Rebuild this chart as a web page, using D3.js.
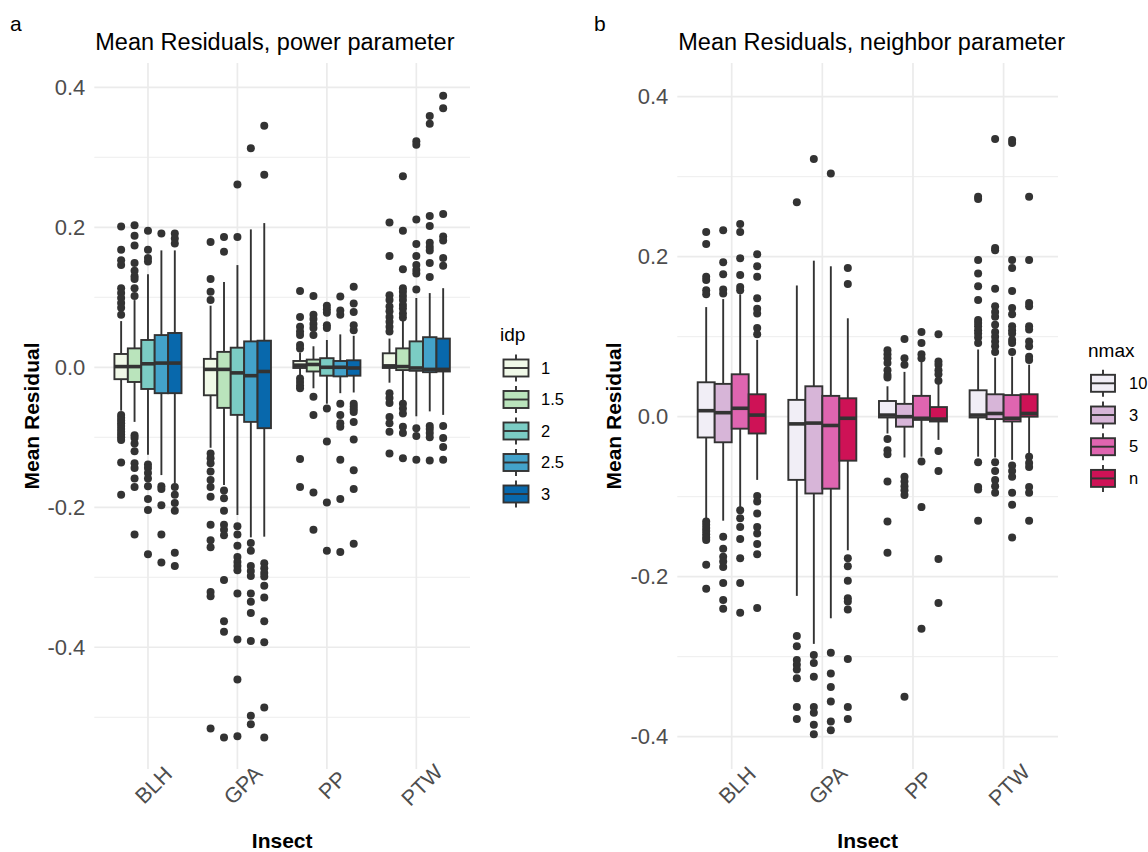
<!DOCTYPE html>
<html><head><meta charset="utf-8">
<script src="https://cdn.jsdelivr.net/npm/d3@7"></script>
<style>
body{margin:0;background:#fff;}
svg{display:block;}
text{font-family:"Liberation Sans",Arial,sans-serif;}
</style>
</head><body>
<svg id="chart" width="1148" height="852"></svg>
<script>
const insects = ["BLH", "GPA", "PP", "PTW"];
const idpLevels = ["1", "1.5", "2", "2.5", "3"];
const idpColors = ["#f0f9e8", "#bae4bc", "#7bccc4", "#43a2ca", "#0868ac"];
const nmaxLevels = ["10", "3", "5", "n"];
const nmaxColors = ["#f1eef6", "#d7b5d8", "#df65b0", "#ce1256"];
const yTicks = [-0.4, -0.2, 0, 0.2, 0.4];
const yMinorTicks = [-0.5, -0.3, -0.1, 0.1, 0.3];

// [insect, level, lowerWhisker, q1, median, q3, upperWhisker]
const idpStats = [
  ["BLH","1",  -0.062,-0.017, 0.001,0.019,0.066],
  ["BLH","1.5",-0.078,-0.021, 0.001,0.027,0.096],
  ["BLH","2",  -0.125,-0.031, 0.005,0.039,0.133],
  ["BLH","2.5",-0.154,-0.037, 0.006,0.046,0.167],
  ["BLH","3",  -0.166,-0.037, 0.006,0.049,0.167],
  ["GPA","1",  -0.115,-0.040,-0.003,0.012,0.088],
  ["GPA","1.5",-0.168,-0.058,-0.003,0.022,0.122],
  ["GPA","2",  -0.211,-0.068,-0.008,0.028,0.146],
  ["GPA","2.5",-0.243,-0.078,-0.012,0.037,0.197],
  ["GPA","3",  -0.242,-0.087,-0.006,0.038,0.206],
  ["PP","1",   -0.011,-0.001, 0.003,0.009,0.021],
  ["PP","1.5", -0.030,-0.006, 0.004,0.011,0.030],
  ["PP","2",   -0.052,-0.012, 0.000,0.013,0.039],
  ["PP","2.5", -0.037,-0.013, 0.000,0.009,0.047],
  ["PP","3",   -0.036,-0.012,-0.001,0.010,0.045],
  ["PTW","1",  -0.022,-0.001, 0.002,0.020,0.041],
  ["PTW","1.5",-0.047,-0.004, 0.001,0.027,0.068],
  ["PTW","2",  -0.070,-0.005,-0.001,0.037,0.099],
  ["PTW","2.5",-0.063,-0.007,-0.003,0.043,0.106],
  ["PTW","3",  -0.068,-0.006,-0.003,0.041,0.113]
];
const idpOutliers = [
  ["BLH","1",  [0.201,0.168,0.153,0.146,0.113,0.106,0.099,0.092,0.085,0.075,-0.068,-0.072,-0.076,-0.080,-0.084,-0.088,-0.092,-0.096,-0.100,-0.104,-0.136,-0.182]],
  ["BLH","1.5",[0.203,0.188,0.174,0.149,0.138,0.130,0.126,0.113,0.102,-0.097,-0.101,-0.109,-0.120,-0.137,-0.144,-0.159,-0.171,-0.239]],
  ["BLH","2",  [0.195,0.168,0.156,0.151,-0.139,-0.144,-0.151,-0.159,-0.170,-0.188,-0.204,-0.267]],
  ["BLH","2.5",[0.191,-0.170,-0.174,-0.197,-0.239,-0.279]],
  ["BLH","3",  [0.191,0.184,0.177,-0.171,-0.182,-0.194,-0.205,-0.265,-0.284]],
  ["GPA","1",  [0.179,0.126,0.108,0.096,-0.123,-0.130,-0.137,-0.149,-0.161,-0.171,-0.185,-0.225,-0.247,-0.257,-0.321,-0.327,-0.516]],
  ["GPA","1.5",[0.186,0.165,-0.176,-0.187,-0.205,-0.225,-0.232,-0.240,-0.304,-0.363,-0.378,-0.529]],
  ["GPA","2",  [0.261,0.186,-0.227,-0.239,-0.255,-0.271,-0.278,-0.284,-0.290,-0.323,-0.389,-0.446,-0.527]],
  ["GPA","2.5",[0.313,-0.251,-0.262,-0.284,-0.291,-0.298,-0.323,-0.335,-0.351,-0.391,-0.498,-0.510]],
  ["GPA","3",  [0.345,0.275,-0.280,-0.287,-0.294,-0.299,-0.312,-0.329,-0.363,-0.393,-0.486,-0.529]],
  ["PP","1",   [0.109,0.072,0.058,0.051,0.046,0.032,0.027,-0.016,-0.021,-0.026,-0.030,-0.131,-0.171]],
  ["PP","1.5", [0.102,0.075,0.069,0.062,0.056,0.046,-0.042,-0.068,-0.179,-0.232]],
  ["PP","2",   [0.088,0.083,0.078,0.060,0.056,-0.059,-0.106,-0.193,-0.262]],
  ["PP","2.5", [0.101,0.081,0.075,-0.052,-0.068,-0.080,-0.085,-0.132,-0.188,-0.264]],
  ["PP","3",   [0.115,0.091,0.079,0.060,0.053,-0.052,-0.056,-0.060,-0.064,-0.078,-0.103,-0.147,-0.174,-0.252]],
  ["PTW","1",  [0.207,0.159,0.103,0.096,0.087,0.080,0.072,0.065,0.058,0.051,-0.037,-0.044,-0.051,-0.071,-0.080,-0.092,-0.123]],
  ["PTW","1.5",[0.273,0.195,0.140,0.113,0.108,0.102,0.096,0.089,0.084,0.077,0.071,-0.052,-0.059,-0.066,-0.085,-0.094,-0.130]],
  ["PTW","2",  [0.323,0.318,0.211,0.176,0.159,0.146,0.139,0.134,0.111,-0.087,-0.098,-0.132]],
  ["PTW","2.5",[0.359,0.348,0.216,0.202,0.178,0.172,0.167,0.149,0.129,-0.084,-0.088,-0.094,-0.100,-0.133]],
  ["PTW","3",  [0.388,0.370,0.219,0.187,0.181,0.156,0.145,-0.084,-0.101,-0.114,-0.132]]
];

const nmaxStats = [
  ["BLH","10",-0.129,-0.026, 0.0075,0.043,0.137],
  ["BLH","3", -0.130,-0.032, 0.005,0.041,0.147],
  ["BLH","5", -0.115,-0.015, 0.0105,0.053,0.153],
  ["BLH","n", -0.079,-0.021, 0.002,0.028,0.096],
  ["GPA","10",-0.224,-0.079,-0.009,0.021,0.164],
  ["GPA","3", -0.284,-0.096,-0.008,0.038,0.195],
  ["GPA","5", -0.252,-0.090,-0.011,0.026,0.188],
  ["GPA","n", -0.167,-0.055,-0.002,0.023,0.123],
  ["PP","10", -0.021,-0.001, 0.002,0.0196,0.038],
  ["PP","3",  -0.051,-0.0125,0.000,0.016,0.056],
  ["PP","5",  -0.050,-0.004,-0.002,0.026,0.069],
  ["PP","n",  -0.029,-0.006,-0.003,0.012,0.041],
  ["PTW","10",-0.050,-0.001, 0.002,0.033,0.084],
  ["PTW","3", -0.051,-0.003, 0.004,0.028,0.074],
  ["PTW","5", -0.054,-0.006,-0.002,0.027,0.075],
  ["PTW","n", -0.046, 0.000, 0.004,0.028,0.065]
];
const nmaxOutliers = [
  ["BLH","10",[0.231,0.216,0.175,0.171,0.158,0.153,-0.131,-0.135,-0.139,-0.143,-0.147,-0.151,-0.154,-0.185,-0.215]],
  ["BLH","3", [0.233,0.193,0.178,0.159,0.154,-0.150,-0.165,-0.175,-0.181,-0.188,-0.208,-0.229,-0.240]],
  ["BLH","5", [0.241,0.231,0.198,0.177,0.162,0.158,-0.117,-0.127,-0.138,-0.153,-0.177,-0.208,-0.245]],
  ["BLH","n", [0.203,0.188,0.175,0.148,0.135,0.129,0.111,0.103,-0.099,-0.106,-0.121,-0.138,-0.146,-0.159,-0.172,-0.239]],
  ["GPA","10",[0.268,-0.274,-0.287,-0.304,-0.310,-0.316,-0.327,-0.363,-0.378]],
  ["GPA","3", [0.322,-0.298,-0.308,-0.325,-0.363,-0.370,-0.385,-0.397]],
  ["GPA","5", [0.304,-0.295,-0.321,-0.338,-0.356,-0.381,-0.392]],
  ["GPA","n", [0.186,0.166,-0.177,-0.187,-0.205,-0.227,-0.231,-0.241,-0.303,-0.363,-0.378]],
  ["PP","10", [0.083,0.078,0.073,0.067,0.058,0.052,0.049,-0.028,-0.042,-0.047,-0.081,-0.131,-0.170]],
  ["PP","3",  [0.097,0.073,0.065,-0.075,-0.081,-0.087,-0.092,-0.098,-0.350]],
  ["PP","5",  [0.106,0.092,0.078,0.073,-0.056,-0.113,-0.265]],
  ["PP","n",  [0.103,0.069,0.065,0.058,0.053,0.045,-0.043,-0.068,-0.178,-0.233]],
  ["PTW","10",[0.275,0.272,0.196,0.179,0.163,0.146,0.121,0.117,0.113,0.108,0.104,0.099,0.092,-0.057,-0.088,-0.091,-0.130]],
  ["PTW","3", [0.347,0.211,0.208,0.160,0.138,0.131,0.125,0.115,0.106,0.100,0.094,0.088,0.081,-0.057,-0.068,-0.079,-0.087,-0.095]],
  ["PTW","5", [0.346,0.342,0.196,0.186,0.157,0.136,0.128,0.113,0.108,0.104,0.096,0.092,0.081,-0.061,-0.068,-0.075,-0.095,-0.110,-0.151]],
  ["PTW","n", [0.275,0.196,0.142,0.138,0.113,0.109,0.094,0.088,0.075,0.071,-0.050,-0.058,-0.063,-0.088,-0.095,-0.130]]
];

const svg = d3.select("#chart");
const INK = "#333333", GRID = "#ebebeb", AXT = "#4d4d4d";

function drawPanel(cfg) {
  const g = svg.append("g");
  const y = d3.scaleLinear().domain(cfg.domain).range([cfg.bottom, cfg.top]);
  const x = d3.scalePoint().domain(insects).range([cfg.left, cfg.right]).padding(0.6);
  const dodge = d3.scaleBand().domain(cfg.levels).range([-0.375 * x.step(), 0.375 * x.step()]);
  const color = d3.scaleOrdinal().domain(cfg.levels).range(cfg.colors);
  const dmin = Math.min(...cfg.domain), dmax = Math.max(...cfg.domain);

  // grid
  g.selectAll(".minor").data(yMinorTicks.filter(v => v > dmin && v < dmax)).join("line")
    .attr("x1", cfg.left).attr("x2", cfg.right).attr("y1", d => y(d)).attr("y2", d => y(d))
    .attr("stroke", GRID).attr("stroke-width", 0.9);
  g.selectAll(".major").data(yTicks).join("line")
    .attr("x1", cfg.left).attr("x2", cfg.right).attr("y1", d => y(d)).attr("y2", d => y(d))
    .attr("stroke", GRID).attr("stroke-width", 1.7);
  g.selectAll(".vmajor").data(insects).join("line")
    .attr("x1", d => x(d)).attr("x2", d => x(d)).attr("y1", cfg.top).attr("y2", cfg.bottom)
    .attr("stroke", GRID).attr("stroke-width", 1.7);

  // y axis
  const ya = g.append("g").attr("transform", `translate(${cfg.left},0)`)
    .call(d3.axisLeft(y).tickValues(yTicks).tickSize(0).tickPadding(9).tickFormat(d => d.toFixed(1)));
  ya.select(".domain").remove();
  ya.selectAll("text").attr("fill", AXT).style("font-size", cfg.yTickSize + "px")
    .style("font-family", '"Liberation Sans",Arial,sans-serif');

  // x axis
  const xa = g.append("g").attr("transform", `translate(0,${cfg.xLabelY})`)
    .call(d3.axisBottom(x).tickSize(0).tickPadding(0));
  xa.select(".domain").remove();
  xa.selectAll("text").attr("fill", AXT).style("font-size", "21.5px")
    .style("font-family", '"Liberation Sans",Arial,sans-serif')
    .attr("x", 5).attr("y", 0).attr("dy", "0.35em").attr("text-anchor", "middle")
    .attr("transform", "rotate(-45,5,0)");

  // boxes
  const boxW = dodge.bandwidth();
  const boxes = g.append("g").selectAll("g").data(cfg.stats).join("g")
    .attr("transform", d => `translate(${x(d[0]) + dodge(d[1]) + boxW / 2},0)`);
  boxes.append("line").attr("x1", 0).attr("x2", 0).attr("y1", d => y(d[5])).attr("y2", d => y(d[6]))
    .attr("stroke", INK).attr("stroke-width", 1.9);
  boxes.append("line").attr("x1", 0).attr("x2", 0).attr("y1", d => y(d[3])).attr("y2", d => y(d[2]))
    .attr("stroke", INK).attr("stroke-width", 1.9);
  boxes.append("rect").attr("x", -boxW / 2).attr("width", boxW)
    .attr("y", d => y(d[5])).attr("height", d => y(d[3]) - y(d[5]))
    .attr("fill", d => color(d[1])).attr("stroke", INK).attr("stroke-width", 1.9);
  boxes.append("line").attr("x1", -boxW / 2).attr("x2", boxW / 2).attr("y1", d => y(d[4])).attr("y2", d => y(d[4]))
    .attr("stroke", INK).attr("stroke-width", 3.6);

  // outliers
  const pts = cfg.outliers.flatMap(([ins, lev, vals]) => vals.map(v => ({ins, lev, v})));
  g.append("g").selectAll("circle").data(pts).join("circle")
    .attr("cx", d => x(d.ins) + dodge(d.lev) + boxW / 2).attr("cy", d => y(d.v)).attr("r", 4)
    .attr("fill", INK);

  // titles
  svg.append("text").attr("x", cfg.left + 1).attr("y", 50).text(cfg.title)
    .style("font-size", "23.5px").attr("fill", "#000");
  svg.append("text").attr("x", cfg.letterX).attr("y", 31).text(cfg.letter)
    .style("font-size", "21px").attr("fill", "#000");
  svg.append("text").attr("x", (cfg.left + cfg.right) / 2).attr("y", 848).attr("text-anchor", "middle")
    .text("Insect").style("font-size", "21px").style("font-weight", "bold").attr("fill", "#000");
  svg.append("text").attr("transform", `translate(${cfg.yTitleX},${(cfg.top + cfg.bottom) / 2}) rotate(-90)`)
    .attr("text-anchor", "middle").text("Mean Residual")
    .style("font-size", "21px").style("font-weight", "bold").attr("fill", "#000");

  // legend
  const L = cfg.legend;
  const lg = svg.append("g");
  lg.append("text").attr("x", L.titleX).attr("y", L.titleY).text(L.title)
    .style("font-size", "19px").attr("fill", "#000");
  const keys = lg.selectAll("g").data(cfg.levels).join("g")
    .attr("transform", (d, i) => `translate(${L.keyX},${L.keyY0 + i * L.step})`);
  keys.append("line").attr("y1", -13.5).attr("y2", 13.5).attr("stroke", INK).attr("stroke-width", 1.9);
  keys.append("rect").attr("x", -L.keyW / 2).attr("width", L.keyW).attr("y", -8.5).attr("height", 17)
    .attr("fill", d => color(d)).attr("stroke", INK).attr("stroke-width", 1.9);
  keys.append("line").attr("x1", -L.keyW / 2).attr("x2", L.keyW / 2).attr("stroke", INK).attr("stroke-width", 1.9);
  keys.append("text").attr("x", L.labelX - L.keyX).attr("dy", "0.35em").text(d => d)
    .style("font-size", "16.5px").attr("fill", "#000");
}

drawPanel({
  left: 94.3, right: 470, top: 63, bottom: 769, domain: [-0.5739, 0.4347],
  levels: idpLevels, colors: idpColors, stats: idpStats, outliers: idpOutliers,
  title: "Mean Residuals, power parameter", letter: "a", letterX: 10,
  yTitleX: 39, xLabelY: 785, yTickSize: 22,
  legend: {title: "idp", titleX: 500, titleY: 341, keyX: 516, keyW: 25, keyY0: 368, step: 31.5, labelX: 541}
});
drawPanel({
  left: 677.3, right: 1058, top: 63, bottom: 769, domain: [-0.4404, 0.4421],
  levels: nmaxLevels, colors: nmaxColors, stats: nmaxStats, outliers: nmaxOutliers,
  title: "Mean Residuals, neighbor parameter", letter: "b", letterX: 594,
  yTitleX: 621, xLabelY: 785, yTickSize: 22,
  legend: {title: "nmax", titleX: 1088, titleY: 357, keyX: 1103, keyW: 24, keyY0: 383.3, step: 31.7, labelX: 1129}
});
</script>
</body></html>
